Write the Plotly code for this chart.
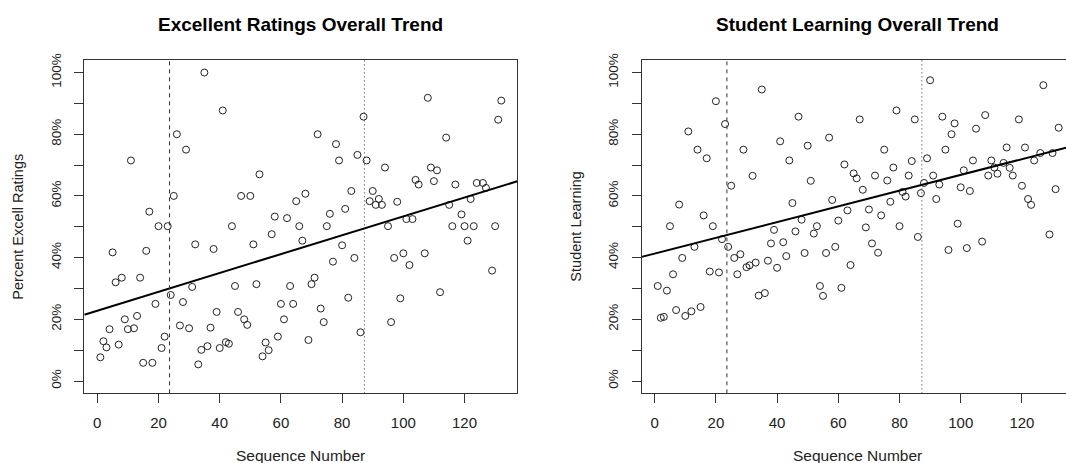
import numpy as np
import plotly.graph_objects as go

# ---- data ----
seq_excellent = [1,2,3,4,5,6,7,8,9,10,11,12,13,14,15,16,17,18,19,20,21,22,23,24,25,26,27,28,29,30,
                 31,32,33,34,35,36,37,38,39,40,41,42,43,44,45,46,47,48,49,50,51,52,53,54,55,56,57,58,59,60,
                 61,62,63,64,65,66,67,68,69,70,71,72,73,74,75,76,77,78,79,80,81,82,83,84,85,86,87,88,89,90,
                 91,92,93,94,95,96,97,98,99,100,101,102,103,104,105,107,108,109,110,111,112,114,115,116,117,
                 119,120,121,122,123,124,126,127,129,130,131,132]
pct_excellent = [7.7,12.9,10.9,16.8,41.7,32.0,11.8,33.5,20.0,16.8,71.5,17.1,21.1,33.5,5.9,42.2,54.9,5.9,25.0,50.2,
                 10.7,14.4,50.2,27.9,60.0,80.0,18.0,25.6,75.0,17.1,30.5,44.3,5.4,10.1,100.0,11.3,17.3,42.8,22.4,10.7,
                 87.7,12.6,12.1,50.2,30.8,22.4,60.0,20.0,18.2,60.0,44.3,31.4,67.0,8.0,12.5,10.0,47.6,53.3,14.4,25.0,
                 20.0,52.8,30.8,25.0,58.3,50.2,45.5,60.7,13.3,31.4,33.5,80.0,23.5,19.1,50.2,54.2,38.7,76.8,71.5,44.0,
                 55.8,27.0,61.6,39.9,73.3,15.8,85.7,71.5,58.3,61.6,57.1,59.0,57.1,69.2,50.2,19.1,39.9,58.1,26.8,41.4,
                 52.5,37.6,52.5,65.2,63.7,41.4,91.8,69.2,64.8,68.3,28.8,78.9,57.1,50.2,63.7,
                 54.0,50.2,45.5,59.0,50.2,64.2,64.2,62.6,35.8,50.2,84.7,90.9]

seq_learning = seq_excellent
pct_learning = [30.8,20.5,20.8,29.3,50.2,34.6,23.0,57.2,39.9,21.1,80.9,22.6,43.5,75.0,24.0,53.7,72.2,35.5,50.2,90.7,
                35.2,46.0,83.3,43.5,63.3,39.9,34.6,41.1,75.0,36.9,37.5,66.5,38.4,27.7,94.5,28.5,39.0,44.6,49.0,36.7,
                77.7,45.0,40.5,71.5,57.7,48.5,85.7,52.3,41.5,76.3,64.9,47.8,50.2,30.8,27.6,41.5,78.9,58.7,43.5,52.0,
                30.2,70.2,55.3,37.6,67.3,65.7,84.8,62.0,49.8,55.6,44.6,66.6,41.6,53.7,75.0,65.0,58.1,69.2,87.7,50.2,
                61.3,59.8,66.6,71.3,84.8,46.7,60.9,64.2,72.2,97.5,66.6,59.0,63.7,85.7,75.0,42.5,80.0,83.5,51.0,62.8,
                68.3,43.1,61.6,71.5,81.8,45.2,86.2,66.6,71.5,69.2,67.2,70.7,75.7,69.1,66.6,
                84.8,63.3,75.7,59.0,57.1,71.5,73.9,95.9,47.5,73.9,62.2,82.1]

break_points = [23.6, 87.3]
titles = ["Excellent Ratings Overall Trend", "Student Learning Overall Trend"]
ylabels = ["Percent Excell Ratings", "Student Learning"]
xlabel = "Sequence Number"
x_ticks = [0, 20, 40, 60, 80, 100, 120]
y_ticks = list(range(0, 101, 10))
y_ticktext = [f"{v}%" if v % 20 == 0 else "" for v in y_ticks]

# ---- layout geometry ----
W, H = 1066, 463
FONT = "Liberation Sans, Arial, sans-serif"
INK = "#222222"
AX = "#333333"

def fx(px):
    return px / W

def fy(py):
    return 1 - py / H

dom_y = [fy(392.3), fy(54)]
dom_x1 = [fx(84.3), fx(517.3)]
dom_x2 = [fx(641.7), 1.0]
xr1 = [-4.24, 137.24]
xr2 = [-4.24, 134.4]
yr = [-4, 104]

fig = go.Figure()

panels = [
    (seq_excellent, pct_excellent, "x", "y", xr1),
    (seq_learning, pct_learning, "x2", "y2", xr2),
]
for xs, ys, xa, ya, xr in panels:
    fig.add_trace(go.Scatter(
        x=xs, y=ys, xaxis=xa, yaxis=ya, mode="markers",
        marker=dict(symbol="circle-open", size=7, color="#222222", line=dict(width=1, color="#222222")),
        hoverinfo="x+y", showlegend=False))
    b, a = np.polyfit(np.array(xs, float), np.array(ys, float), 1)
    fig.add_trace(go.Scatter(
        x=xr, y=[a + b * xr[0], a + b * xr[1]], xaxis=xa, yaxis=ya, mode="lines",
        line=dict(color="black", width=2), hoverinfo="skip", showlegend=False))
    for bp, dash in zip(break_points, ["4px,4px", "1px,3px"]):
        fig.add_shape(type="line", xref=xa, yref=f"{ya} domain", x0=bp, x1=bp, y0=0, y1=1,
                      line=dict(color="#333333", width=1, dash=dash))

common = dict(showgrid=False, zeroline=False, showline=True, linecolor=AX, linewidth=1,
              ticks="outside", ticklen=9, tickcolor=AX, tickwidth=1)
xfont = dict(family=FONT, size=15, color=INK)
yfont = dict(family=FONT, size=13.5, color=INK)

fig.update_layout(
    width=W, height=H, margin=dict(l=0, r=0, t=0, b=0),
    paper_bgcolor="white", plot_bgcolor="white",
    xaxis=dict(domain=dom_x1, range=xr1, tickvals=x_ticks, mirror=True, anchor="y",
               tickfont=xfont, ticklabelstandoff=7, **common),
    yaxis=dict(domain=dom_y, range=yr, tickvals=y_ticks, ticktext=y_ticktext, tickangle=-90,
               mirror=True, anchor="x", tickfont=yfont, ticklabelstandoff=8, **common),
    xaxis2=dict(domain=dom_x2, range=xr2, tickvals=x_ticks, mirror=True, anchor="y2",
                tickfont=xfont, ticklabelstandoff=7, **common),
    yaxis2=dict(domain=dom_y, range=yr, tickvals=y_ticks, ticktext=y_ticktext, tickangle=-90,
                mirror=False, anchor="x2", tickfont=yfont, ticklabelstandoff=8, **common),
)

# titles and axis labels
centers = [300, 857]
for i, cx in enumerate(centers):
    fig.add_annotation(text=f"<b>{titles[i]}</b>", x=fx(cx), y=fy(18), xref="paper", yref="paper",
                       showarrow=False, xanchor="center", yanchor="middle",
                       font=dict(family=FONT, size=19, color="black"))
    fig.add_annotation(text=xlabel, x=fx(cx), y=fy(455), xref="paper", yref="paper",
                       showarrow=False, xanchor="center", yanchor="middle",
                       font=dict(family=FONT, size=15.5, color=INK))
ylab_x = [18, 576]
for i, lx in enumerate(ylab_x):
    fig.add_annotation(text=ylabels[i], x=fx(lx), y=fy(223), xref="paper", yref="paper",
                       showarrow=False, textangle=-90, xanchor="center", yanchor="middle",
                       font=dict(family=FONT, size=14.5, color=INK))

fig.write_html("out.html", config={"displayModeBar": False},
               post_script="document.body.style.margin='0px';document.body.style.overflow='hidden';")
